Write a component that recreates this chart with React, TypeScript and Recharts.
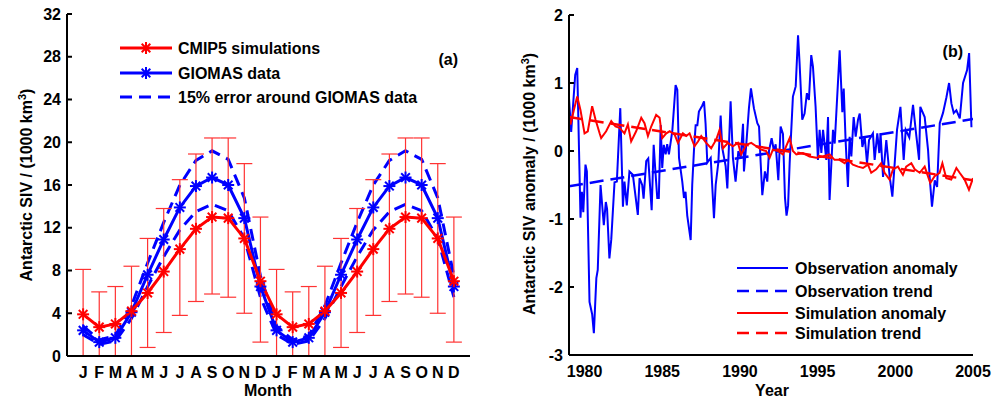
import React from "react";
import { LineChart, Line, XAxis, YAxis, ErrorBar } from "recharts";

// ---- panel (a): seasonal cycle, shown twice ----
const MONTHS = ["J", "F", "M", "A", "M", "J", "J", "A", "S", "O", "N", "D"];
const CMIP5 = [3.9, 2.7, 3.0, 4.2, 5.9, 7.9, 10.0, 11.9, 13.0, 12.9, 11.0, 7.0];
const CMIP5_LOW = [0, 0, 0, 0, 0.8, 2.2, 3.8, 5.1, 5.8, 5.5, 4.0, 1.3];
const CMIP5_HIGH = [8.1, 6.0, 6.5, 8.4, 11.0, 13.8, 16.5, 18.9, 20.4, 20.4, 18.0, 13.0];
const GIOMAS = [2.4, 1.3, 1.7, 4.1, 7.6, 10.9, 13.9, 15.9, 16.7, 16.0, 12.9, 6.5];
const GIOMAS_UP = [2.8, 1.5, 1.9, 4.7, 8.7, 12.5, 16.0, 18.3, 19.2, 18.4, 14.8, 7.5];
const GIOMAS_DOWN = [2.0, 1.1, 1.4, 3.5, 6.5, 9.3, 11.8, 13.5, 14.2, 13.6, 11.0, 5.5];

// ---- panel (b): monthly anomalies 1979-2004 ([year, value]) ----
const OBS_ANOMALY: [number, number][] = [
  [1979.0, 0.78], [1979.14, 0.28], [1979.4, 1.12], [1979.53, 1.22], [1979.74, -0.98],
  [1979.83, -0.6], [1979.92, -0.9], [1980.06, -0.2], [1980.15, -0.3], [1980.32, -2.22],
  [1980.49, -2.4], [1980.6, -2.68], [1980.76, -1.87], [1980.85, -1.75], [1981.03, -0.5],
  [1981.24, -1.09], [1981.37, -0.75], [1981.45, -0.85], [1981.6, -1.58], [1981.72, -1.3],
  [1981.93, -0.46], [1982.08, -0.45], [1982.3, 0.63], [1982.47, -0.82], [1982.57, -0.45],
  [1982.72, -0.8], [1982.89, -0.3], [1983.11, -0.35], [1983.43, -0.94], [1983.54, -0.4],
  [1983.71, -0.5], [1983.8, -0.7], [1983.97, -0.15], [1984.1, -0.11], [1984.32, -0.87],
  [1984.45, 0.09], [1984.56, -0.3], [1984.68, -0.69], [1984.78, -0.69], [1984.9, 0.38],
  [1985.0, -0.25], [1985.1, 0.09], [1985.22, -0.05], [1985.32, 0.1], [1985.43, -0.05],
  [1985.65, 0.3], [1985.86, 0.97], [1985.97, 0.9], [1986.08, -0.1], [1986.29, -0.45],
  [1986.4, -0.69], [1986.5, -0.6], [1986.61, -0.95], [1986.83, -1.31], [1986.93, -0.5],
  [1987.04, 0.0], [1987.15, 0.38], [1987.26, 0.38], [1987.36, 0.58], [1987.58, 0.67],
  [1987.69, 0.73], [1987.79, 0.4], [1987.9, -0.17], [1988.12, -0.1], [1988.33, -0.99],
  [1988.44, -0.5], [1988.61, -0.17], [1988.76, 0.52], [1988.86, 0.05], [1989.08, -0.22],
  [1989.19, -0.55], [1989.4, 0.73], [1989.55, -0.1], [1989.72, -0.45], [1989.9, 0.0],
  [1990.05, -0.1], [1990.2, 0.4], [1990.26, -0.3], [1990.41, 0.1], [1990.58, 0.63],
  [1990.71, 0.92], [1990.9, 0.63], [1991.12, 0.41], [1991.23, 0.36], [1991.33, -0.15],
  [1991.44, -0.65], [1991.61, -0.3], [1991.76, -0.45], [1991.87, 0.0], [1992.04, 0.19],
  [1992.19, 0.0], [1992.3, 0.1], [1992.47, -0.43], [1992.62, 0.36], [1992.77, 0.25],
  [1992.9, -0.69], [1993.0, -0.95], [1993.1, -0.8], [1993.2, -0.18], [1993.41, 0.8],
  [1993.59, 0.95], [1993.74, 1.7], [1993.84, 1.29], [1994.01, 0.46], [1994.16, 0.55],
  [1994.31, 0.85], [1994.44, 0.75], [1994.59, 1.41], [1994.7, 1.24], [1994.87, 0.65],
  [1995.02, -0.13], [1995.13, 0.31], [1995.24, -0.03], [1995.35, 0.31], [1995.56, -0.13],
  [1995.67, 0.5], [1995.77, -0.72], [1995.99, 0.31], [1996.1, 0.11], [1996.42, 1.48],
  [1996.59, 0.57], [1996.68, 0.92], [1996.8, 0.16], [1996.95, -0.53], [1997.06, 0.21],
  [1997.17, -0.08], [1997.32, 0.5], [1997.45, 0.21], [1997.6, 0.46], [1997.71, 0.55],
  [1997.88, 0.06], [1998.03, 0.21], [1998.18, -0.18], [1998.31, 0.16], [1998.56, 0.26],
  [1998.67, -0.13], [1998.84, 0.26], [1998.97, -0.03], [1999.05, 0.26], [1999.21, -0.38],
  [1999.42, 0.16], [1999.64, -0.38], [1999.81, -0.67], [2000.11, 0.31], [2000.33, 0.65],
  [2000.54, -0.13], [2000.67, 0.31], [2000.9, 0.2], [2001.14, 0.68], [2001.31, 0.31],
  [2001.53, -0.13], [2001.61, 0.65], [2001.89, 0.5], [2002.11, 0.01], [2002.21, -0.38],
  [2002.36, -0.82], [2002.54, -0.43], [2002.69, -0.53], [2002.86, 0.41], [2003.07, 0.56],
  [2003.29, 0.79], [2003.46, 1.0], [2003.61, 0.7], [2003.76, 0.56], [2003.93, 0.6],
  [2004.15, 0.48], [2004.36, 1.0], [2004.62, 1.19], [2004.75, 1.44], [2004.9, 0.35],
];

const SIM_ANOMALY: [number, number][] = [
  [1979.0, 0.49], [1979.1, 0.39], [1979.31, 0.6], [1979.53, 0.8], [1979.74, 0.6],
  [1980.0, 0.26], [1980.21, 0.29], [1980.49, 0.66], [1980.71, 0.46], [1980.97, 0.26],
  [1981.07, 0.19], [1981.39, 0.29], [1981.72, 0.44], [1981.99, 0.36], [1982.25, 0.34],
  [1982.57, 0.26], [1982.79, 0.39], [1983.0, 0.14], [1983.32, 0.29], [1983.65, 0.49],
  [1983.86, 0.41], [1984.08, 0.22], [1984.29, 0.36], [1984.61, 0.53], [1984.83, 0.49],
  [1985.0, 0.19], [1985.26, 0.26], [1985.48, 0.29], [1985.8, 0.24], [1986.01, 0.12],
  [1986.33, 0.26], [1986.55, 0.22], [1986.76, 0.26], [1987.08, 0.07], [1987.3, 0.14],
  [1987.51, 0.22], [1987.83, 0.12], [1988.15, 0.04], [1988.48, 0.17], [1988.69, 0.31],
  [1988.91, 0.04], [1989.23, 0.12], [1989.55, 0.07], [1989.87, 0.12], [1990.08, -0.05],
  [1990.41, 0.09], [1990.73, 0.12], [1991.05, 0.07], [1991.37, 0.02], [1991.69, 0.0],
  [1991.91, -0.1], [1992.12, 0.02], [1992.45, 0.0], [1992.77, -0.05], [1992.98, 0.07],
  [1993.2, 0.19], [1993.41, 0.0], [1993.63, -0.05], [1994.05, -0.03], [1994.48, -0.08],
  [1994.91, -0.1], [1995.34, -0.08], [1995.77, -0.05], [1996.09, -0.13], [1996.41, -0.13],
  [1996.74, -0.18], [1996.95, -0.13], [1997.27, -0.2], [1997.6, -0.23], [1997.92, -0.25],
  [1998.24, -0.2], [1998.45, -0.32], [1998.77, -0.27], [1999.09, -0.18], [1999.31, -0.32],
  [1999.63, -0.42], [1999.85, -0.27], [2000.17, -0.23], [2000.49, -0.35], [2000.7, -0.23],
  [2001.03, -0.18], [2001.25, -0.27], [2001.57, -0.32], [2001.89, -0.23], [2002.1, -0.37],
  [2002.25, -0.47], [2002.53, -0.37], [2002.85, -0.32], [2003.03, -0.18], [2003.28, -0.4],
  [2003.6, -0.42], [2003.93, -0.25], [2004.14, -0.32], [2004.46, -0.42], [2004.74, -0.57],
  [2005.0, -0.4],
];

const OBS_TREND: [number, number][] = [[1979, -0.52], [2005, 0.47]];
const SIM_TREND: [number, number][] = [[1979, 0.5], [2005, -0.43]];

const YEAR_TICKS = [1980, 1985, 1990, 1995, 2000, 2005];
const SIV_TICKS = [0, 4, 8, 12, 16, 20, 24, 28, 32];
const ANOM_TICKS = [-3, -2, -1, 0, 1, 2];

const RED = "#ff0000";
const BLUE = "#0000ff";
const FONT = "'Liberation Sans', Arial, sans-serif";

const seasonal = Array.from({ length: 24 }, (_, i) => {
  const m = i % 12;
  return {
    idx: i + 1,
    cmip5: CMIP5[m],
    err: [CMIP5[m] - CMIP5_LOW[m], CMIP5_HIGH[m] - CMIP5[m]],
    giomas: GIOMAS[m],
    up: GIOMAS_UP[m],
    down: GIOMAS_DOWN[m],
  };
});

const toRows = (pts: [number, number][]) => pts.map(([year, v]) => ({ year, v }));

function Star(props: any) {
  const { cx, cy, stroke } = props;
  if (cx == null || cy == null) return <g />;
  const r = 6;
  const d = r * 0.72;
  return (
    <g stroke={stroke} strokeWidth={2}>
      <line x1={cx - r} y1={cy} x2={cx + r} y2={cy} />
      <line x1={cx} y1={cy - r} x2={cx} y2={cy + r} />
      <line x1={cx - d} y1={cy - d} x2={cx + d} y2={cy + d} />
      <line x1={cx - d} y1={cy + d} x2={cx + d} y2={cy - d} />
    </g>
  );
}

const axisLine = { stroke: "#000", strokeWidth: 2 };
const tickStyle = { fill: "#000", fontSize: 16, fontWeight: "bold" as const };

export default function App() {
  return (
    <div
      style={{
        position: "absolute",
        left: 0,
        top: 0,
        width: 995,
        height: 399,
        background: "#fff",
        fontFamily: FONT,
        overflow: "hidden",
      }}
    >
      <div style={{ position: "absolute", left: 0, top: 0 }}>
        <LineChart width={500} height={399} data={seasonal} margin={{ top: 14, right: 30, bottom: 13, left: 27 }}>
          <XAxis
            dataKey="idx"
            type="number"
            domain={[0, 25]}
            ticks={seasonal.map((d) => d.idx)}
            interval={0}
            tickFormatter={(v) => MONTHS[(v - 1) % 12]}
            height={30}
            axisLine={axisLine}
            tickLine={false}
            tickMargin={5}
            tick={tickStyle}
          />
          <XAxis xAxisId="top" orientation="top" type="number" domain={[0, 25]} height={0} tick={false} tickLine={false} axisLine={axisLine} />
          <YAxis
            width={40}
            domain={[0, 32]}
            ticks={SIV_TICKS}
            interval={0}
            tickSize={-5}
            tickMargin={11}
            tickLine={axisLine}
            axisLine={axisLine}
            tick={tickStyle}
          />
          <YAxis
            yAxisId="right"
            orientation="right"
            width={0}
            domain={[0, 32]}
            ticks={SIV_TICKS}
            interval={0}
            tickSize={-5}
            tickLine={axisLine}
            axisLine={axisLine}
            tickFormatter={() => ""}
          />
          <Line dataKey="up" stroke={BLUE} strokeWidth={3} strokeDasharray="12 7" dot={false} isAnimationActive={false} />
          <Line dataKey="down" stroke={BLUE} strokeWidth={3} strokeDasharray="12 7" dot={false} isAnimationActive={false} />
          <Line dataKey="giomas" stroke={BLUE} strokeWidth={3} dot={<Star />} isAnimationActive={false} />
          <Line dataKey="cmip5" stroke={RED} strokeWidth={3} dot={<Star />} isAnimationActive={false}>
            <ErrorBar dataKey="err" width={8} stroke="#ff3333" strokeWidth={1.2} direction="y" />
          </Line>
        </LineChart>
      </div>

      <div style={{ position: "absolute", left: 500, top: 0 }}>
        <LineChart width={495} height={399} margin={{ top: 15, right: 22, bottom: 14, left: 29 }}>
          <XAxis
            dataKey="year"
            type="number"
            domain={[1979, 2005]}
            allowDataOverflow
            ticks={YEAR_TICKS}
            interval={0}
            height={30}
            axisLine={axisLine}
            tickLine={false}
            tickMargin={5}
            tick={tickStyle}
          />
          <XAxis xAxisId="top" orientation="top" type="number" domain={[1979, 2005]} height={0} tick={false} tickLine={false} axisLine={axisLine} />
          <YAxis
            width={40}
            domain={[-3, 2]}
            ticks={ANOM_TICKS}
            interval={0}
            allowDataOverflow
            tickSize={-5}
            tickMargin={11}
            tickLine={axisLine}
            axisLine={axisLine}
            tick={tickStyle}
          />
          <YAxis
            yAxisId="right"
            orientation="right"
            width={0}
            domain={[-3, 2]}
            ticks={ANOM_TICKS}
            interval={0}
            tickSize={-5}
            tickLine={axisLine}
            axisLine={axisLine}
            tickFormatter={() => ""}
          />
          <Line data={toRows(OBS_ANOMALY)} dataKey="v" stroke={BLUE} strokeWidth={2} dot={false} isAnimationActive={false} />
          <Line data={toRows(OBS_TREND)} dataKey="v" stroke={BLUE} strokeWidth={2.5} strokeDasharray="14 7" dot={false} isAnimationActive={false} />
          <Line data={toRows(SIM_ANOMALY)} dataKey="v" stroke={RED} strokeWidth={2} dot={false} isAnimationActive={false} />
          <Line data={toRows(SIM_TREND)} dataKey="v" stroke={RED} strokeWidth={2.5} strokeDasharray="14 7" dot={false} isAnimationActive={false} />
        </LineChart>
      </div>

      <svg
        width={995}
        height={399}
        style={{ position: "absolute", left: 0, top: 0, pointerEvents: "none" }}
        fontFamily={FONT}
      >
        {/* panel (a) labels */}
        <text transform="translate(32,185) rotate(-90)" textAnchor="middle" fontSize={16} fontWeight="bold" fill="#000">
          Antarctic SIV / (1000 km<tspan baselineShift="super" fontSize={11}>3</tspan>)
        </text>
        <text x={268} y={396} textAnchor="middle" fontSize={16} fontWeight="bold" fill="#000">Month</text>
        <text x={458} y={65} textAnchor="end" fontSize={16} fontWeight="bold" fill="#000">(a)</text>

        <line x1={120} y1={48} x2={172} y2={48} stroke={RED} strokeWidth={3} />
        <Star cx={146} cy={48} stroke={RED} />
        <text x={178} y={54} fontSize={16} fontWeight="bold" fill="#000">CMIP5 simulations</text>
        <line x1={120} y1={73} x2={172} y2={73} stroke={BLUE} strokeWidth={3} />
        <Star cx={146} cy={73} stroke={BLUE} />
        <text x={178} y={79} fontSize={16} fontWeight="bold" fill="#000">GIOMAS data</text>
        <line x1={120} y1={97} x2={172} y2={97} stroke={BLUE} strokeWidth={3} strokeDasharray="12 7" />
        <text x={178} y={103} fontSize={16} fontWeight="bold" fill="#000">15% error around GIOMAS data</text>

        {/* panel (b) labels */}
        <text transform="translate(535,184) rotate(-90)" textAnchor="middle" fontSize={16} fontWeight="bold" fill="#000">
          Antarctic SIV anomaly / (1000 km<tspan baselineShift="super" fontSize={11}>3</tspan>)
        </text>
        <text x={772} y={396} textAnchor="middle" fontSize={16} fontWeight="bold" fill="#000">Year</text>
        <text x={963} y={57} textAnchor="end" fontSize={16} fontWeight="bold" fill="#000">(b)</text>

        <line x1={737} y1={268} x2={788} y2={268} stroke={BLUE} strokeWidth={2} />
        <text x={795} y={274} fontSize={16} fontWeight="bold" fill="#000">Observation anomaly</text>
        <line x1={737} y1={291} x2={788} y2={291} stroke={BLUE} strokeWidth={2.5} strokeDasharray="12 7" />
        <text x={795} y={297} fontSize={16} fontWeight="bold" fill="#000">Observation trend</text>
        <line x1={737} y1={313} x2={788} y2={313} stroke={RED} strokeWidth={2} />
        <text x={795} y={319} fontSize={16} fontWeight="bold" fill="#000">Simulation anomaly</text>
        <line x1={737} y1={333} x2={788} y2={333} stroke={RED} strokeWidth={2.5} strokeDasharray="12 7" />
        <text x={795} y={339} fontSize={16} fontWeight="bold" fill="#000">Simulation trend</text>
      </svg>
    </div>
  );
}
